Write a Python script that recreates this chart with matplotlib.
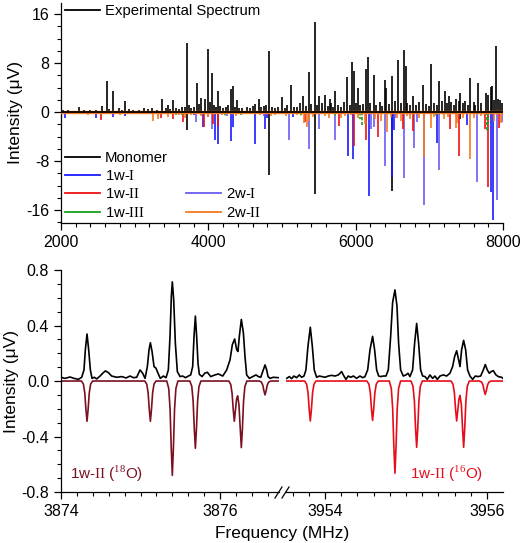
import numpy as np
import matplotlib
matplotlib.use("Agg")
import matplotlib.pyplot as plt
from matplotlib.lines import Line2D
from matplotlib.ticker import MultipleLocator

plt.rcParams['font.family'] = ['Liberation Sans', 'DejaVu Sans']
plt.rcParams['mathtext.fontset'] = 'custom'
plt.rcParams['mathtext.rm'] = 'Liberation Serif'
plt.rcParams['axes.unicode_minus'] = False

# ---- top panel: stick spectra (MHz, uV) ----
exp_f = [2030, 2090, 2150, 2240, 2310, 2400, 2480, 2552, 2619, 2650, 2710, 2790, 2830, 2864,
         2920, 2980, 3060, 3120, 3180, 3230, 3300, 3366, 3420, 3450, 3480, 3519, 3560, 3600,
         3640, 3680, 3709, 3740, 3770, 3800, 3840, 3870, 3904, 3949, 3994, 4020, 4044, 4070,
         4100, 4125, 4160, 4200, 4240, 4270, 4306, 4333, 4360, 4383, 4420, 4460, 4520, 4560,
         4600, 4640, 4681, 4720, 4760, 4780, 4817, 4860, 4900, 4940, 4998, 5040, 5070, 5120,
         5160, 5200, 5240, 5287, 5320, 5360, 5400, 5445, 5480, 5504, 5540, 5590, 5620, 5645,
         5660, 5690, 5717, 5760, 5800, 5840, 5889, 5920, 5956, 5974, 6000, 6033, 6060, 6100,
         6137, 6169, 6200, 6246, 6280, 6330, 6360, 6395, 6417, 6450, 6499, 6540, 6580, 6610,
         6653, 6680, 6700, 6740, 6780, 6820, 6860, 6915, 6960, 7000, 7028, 7060, 7100, 7132,
         7170, 7213, 7240, 7268, 7300, 7330, 7358, 7400, 7421, 7460, 7490, 7520, 7548, 7600,
         7620, 7657, 7700, 7765, 7797, 7837, 7856, 7880, 7910, 7937, 7955, 7990]
exp_v = [0.4, 0.3, 0.2, 0.8, 0.3, 0.4, 0.3, 1.0, 5.0, 0.5, 3.4, 0.6, 0.3, 1.8,
         0.5, 0.4, 0.3, 0.6, 0.5, 0.7, 0.4, 2.1, 0.6, 1.2, 0.5, 2.0, 0.7, 0.5,
         0.8, 0.9, 11.3, 1.1, 0.6, 0.9, 4.8, 1.3, 2.3, 2.1, 10.3, 1.6, 6.3, 1.1,
         0.8, 3.5, 1.0, 0.7, 0.8, 1.2, 3.7, 4.3, 0.9, 2.0, 0.7, 0.6, 0.9, 0.7,
         1.0, 1.3, 2.2, 0.8, 1.0, 1.2, 10.0, 0.9, 0.6, 0.8, 2.5, 0.7, 1.2, 4.4,
         0.9, 0.8, 1.4, 2.7, 1.0, 6.5, 1.3, 14.7, 1.1, 2.7, 1.5, 2.8, 1.0, 2.2,
         1.4, 0.9, 3.5, 1.2, 0.8, 1.6, 5.8, 1.2, 8.2, 6.7, 1.5, 3.9, 1.1, 1.3,
         7.0, 9.0, 1.4, 6.0, 1.2, 1.6, 1.0, 5.3, 3.9, 1.3, 5.9, 1.8, 8.5, 1.5,
         10.1, 7.5, 1.4, 1.1, 2.7, 1.2, 1.6, 4.4, 1.3, 1.0, 7.8, 1.5, 1.2, 5.0,
         1.8, 3.4, 1.4, 2.7, 1.7, 1.2, 2.1, 1.8, 3.1, 1.5, 1.8, 1.1, 5.6, 1.6,
         1.2, 4.8, 1.4, 3.1, 2.8, 4.1, 4.3, 1.9, 10.8, 2.2, 2.0, 1.5]

mono_f = [3709, 4817, 5445, 6499, 7421]
mono_v = [-2.9, -10.2, -13.3, -12.8, -1.2]

w1_I_f = [2058, 2479, 2706, 2866, 3800, 3932, 4095, 4127, 4303, 4340, 4634, 4769, 4790,
          5150, 5898, 5968, 6176, 6493, 6520, 7108, 7506, 7832, 7859]
w1_I_v = [-0.9, -1.0, -0.8, -0.7, -0.4, -2.5, -4.5, -5.2, -4.8, -2.5, -5.2, -2.7, -1.0,
          -0.8, -7.1, -7.6, -13.7, -10.6, -2.9, -5.1, -2.1, -13.0, -17.6]

w1_II_f = [2547, 3357, 3519, 3660, 3946, 4059, 4125, 5310, 5770, 5982, 6140, 6303, 6638,
           6778, 7280, 7407, 7756, 7796, 7946]
w1_II_v = [-1.3, -0.9, -1.1, -1.6, -2.5, -2.0, -2.2, -1.6, -2.2, -5.5, -4.6, -4.1, -2.8,
           -3.1, -2.8, -7.2, -2.7, -12.2, -2.6]

w1_III_f = [3560, 3640, 4230, 4440, 5260, 5720, 6060, 6086, 6740, 7090, 7779, 7800]
w1_III_v = [-0.4, -0.5, -0.6, -0.5, -0.6, -0.8, -1.2, -2.1, -0.8, -0.7, -3.2, -2.0]

w2_I_f = [3833, 4000, 4045, 4260, 4760, 5099, 5362, 5498, 5715, 6212, 6245, 6394, 6540,
          6656, 6787, 6830, 6928, 7135, 7651, 7913, 7991]
w2_I_v = [-1.6, -0.8, -2.8, -0.7, -0.6, -4.6, -6.1, -2.7, -4.5, -2.8, -2.5, -8.8, -1.0,
          -10.8, -5.9, -1.6, -15.2, -9.5, -11.4, -14.4, -1.6]

w2_II_f = [2200, 2367, 2600, 2800, 3100, 3249, 3317, 3453, 3600, 3680, 3760, 3900, 4000,
           4180, 4380, 4500, 4700, 4850, 4900, 5050, 5200, 5300, 5335, 5362, 5420, 5580,
           5640, 5800, 5850, 5930, 6030, 6120, 6260, 6340, 6425, 6480, 6560, 6620, 6700,
           6740, 6860, 6928, 7018, 7060, 7200, 7250, 7357, 7380, 7460, 7552, 7600, 7700,
           7880, 7970]
w2_II_v = [-0.2, -0.5, -0.3, -0.4, -0.3, -1.4, -1.2, -0.8, -0.5, -0.9, -0.4, -0.6, -0.8,
           -0.5, -0.7, -0.3, -0.5, -0.6, -0.4, -0.6, -0.4, -1.8, -2.5, -1.5, -0.8, -0.6,
           -0.9, -1.0, -0.6, -0.5, -1.0, -2.0, -1.2, -1.4, -3.2, -0.8, -0.9, -1.4, -0.7,
           -1.2, -1.0, -7.3, -2.6, -0.8, -1.1, -0.8, -2.6, -1.8, -1.0, -7.7, -0.9, -0.6,
           -1.4, -1.8]

# ---- bottom panel: zoomed traces ----
l_exp_f = [3874.000, 3874.050, 3874.113, 3874.164, 3874.218, 3874.260, 3874.289, 3874.306,
           3874.327, 3874.348, 3874.369, 3874.390, 3874.419, 3874.449, 3874.491, 3874.524,
           3874.558, 3874.595, 3874.637, 3874.700, 3874.763, 3874.818, 3874.868, 3874.910,
           3874.952, 3874.994, 3875.027, 3875.057, 3875.086, 3875.107, 3875.124, 3875.145,
           3875.170, 3875.195, 3875.220, 3875.249, 3875.287, 3875.321, 3875.350, 3875.371,
           3875.388, 3875.400, 3875.417, 3875.438, 3875.463, 3875.497, 3875.530, 3875.564,
           3875.602, 3875.631, 3875.656, 3875.673, 3875.690, 3875.706, 3875.723, 3875.740,
           3875.774, 3875.807, 3875.841, 3875.883, 3875.937, 3875.979, 3876.034, 3876.084,
           3876.126, 3876.155, 3876.184, 3876.210, 3876.226, 3876.243, 3876.268, 3876.294,
           3876.314, 3876.335, 3876.369, 3876.411, 3876.453, 3876.482, 3876.512, 3876.537,
           3876.566, 3876.587, 3876.604, 3876.629, 3876.671, 3876.734]
l_exp_v = [0.027, 0.019, 0.029, 0.019, 0.012, 0.027, 0.080, 0.225,
           0.339, 0.225, 0.080, 0.019, 0.027, 0.015, 0.036, 0.056,
           0.073, 0.061, 0.036, 0.027, 0.032, 0.022, 0.036, 0.024,
           0.027, 0.080, 0.056, 0.019, 0.104, 0.225, 0.276, 0.213,
           0.104, 0.092, 0.056, 0.019, 0.036, 0.024, 0.080, 0.322,
           0.613, 0.715, 0.589, 0.274, 0.068, 0.032, 0.036, 0.024,
           0.036, 0.044, 0.104, 0.322, 0.468, 0.322, 0.128, 0.048,
           0.032, 0.056, 0.063, 0.032, 0.044, 0.051, 0.036, 0.080,
           0.153, 0.262, 0.303, 0.225, 0.213, 0.322, 0.444, 0.347,
           0.177, 0.044, 0.019, 0.032, 0.044, 0.032, 0.027, 0.068,
           0.116, 0.080, 0.032, 0.019, 0.027, 0.024]

l_sim_f = [3874.000,
           3874.257, 3874.282, 3874.299, 3874.313, 3874.327, 3874.341, 3874.355, 3874.372, 3874.397,
           3875.054, 3875.079, 3875.096, 3875.110, 3875.124, 3875.138, 3875.152, 3875.169, 3875.194,
           3875.330, 3875.355, 3875.372, 3875.386, 3875.400, 3875.414, 3875.428, 3875.445, 3875.470,
           3875.620, 3875.645, 3875.662, 3875.676, 3875.690, 3875.704, 3875.718, 3875.735, 3875.760,
           3876.110, 3876.135, 3876.152, 3876.166, 3876.180, 3876.194, 3876.208, 3876.222, 3876.238,
           3876.254, 3876.268, 3876.282, 3876.296, 3876.313, 3876.338,
           3876.496, 3876.521, 3876.538, 3876.552, 3876.566, 3876.580, 3876.594, 3876.611, 3876.636,
           3876.734]
l_sim_v = [0.0,
           0.0, -0.023, -0.087, -0.203, -0.290, -0.203, -0.087, -0.023, 0.0,
           0.0, -0.023, -0.087, -0.203, -0.290, -0.203, -0.087, -0.023, 0.0,
           0.0, -0.054, -0.204, -0.476, -0.680, -0.476, -0.204, -0.054, 0.0,
           0.0, -0.039, -0.146, -0.340, -0.485, -0.340, -0.146, -0.039, 0.0,
           0.0, -0.025, -0.090, -0.205, -0.290, -0.210, -0.130, -0.107, -0.170,
           -0.340, -0.480, -0.340, -0.146, -0.039, 0.0,
           0.0, -0.008, -0.030, -0.070, -0.100, -0.070, -0.030, -0.008, 0.0,
           0.0]

r_exp_f = [3953.527, 3953.560, 3953.588, 3953.617, 3953.650, 3953.683, 3953.712, 3953.741,
           3953.765, 3953.790, 3953.819, 3953.844, 3953.868, 3953.897, 3953.930, 3953.963,
           3954.000, 3954.041, 3954.082, 3954.123, 3954.165, 3954.206, 3954.226, 3954.259,
           3954.288, 3954.317, 3954.350, 3954.391, 3954.432, 3954.465, 3954.494, 3954.527,
           3954.556, 3954.588, 3954.613, 3954.638, 3954.663, 3954.687, 3954.720, 3954.753,
           3954.782, 3954.811, 3954.835, 3954.864, 3954.889, 3954.909, 3954.934, 3954.967,
           3955.000, 3955.025, 3955.049, 3955.082, 3955.107, 3955.132, 3955.156, 3955.181,
           3955.206, 3955.235, 3955.263, 3955.296, 3955.329, 3955.358, 3955.387, 3955.420,
           3955.461, 3955.502, 3955.543, 3955.576, 3955.601, 3955.626, 3955.650, 3955.667,
           3955.687, 3955.712, 3955.737, 3955.761, 3955.790, 3955.823, 3955.856, 3955.889,
           3955.922, 3955.955, 3955.979, 3956.004, 3956.029, 3956.053, 3956.078, 3956.111,
           3956.140, 3956.181, 3956.198]
r_exp_v = [0.019, 0.032, 0.017, 0.036, 0.024, 0.044, 0.027, 0.036,
           0.080, 0.250, 0.388, 0.250, 0.080, 0.027, 0.036, 0.032,
           0.027, 0.036, 0.041, 0.036, 0.044, 0.068, 0.044, 0.012,
           0.036, 0.027, 0.036, 0.019, 0.036, 0.024, 0.032, 0.080,
           0.225, 0.322, 0.225, 0.080, 0.036, 0.032, 0.036, 0.036,
           0.080, 0.322, 0.565, 0.657, 0.541, 0.274, 0.080, 0.036,
           0.044, 0.056, 0.032, 0.080, 0.274, 0.415, 0.274, 0.080,
           0.036, 0.032, 0.012, 0.044, 0.019, 0.036, 0.012, 0.036,
           0.044, 0.036, 0.056, 0.104, 0.177, 0.218, 0.153, 0.104,
           0.225, 0.293, 0.225, 0.080, 0.036, 0.012, 0.036, 0.032,
           0.036, 0.080, 0.119, 0.080, 0.056, 0.068, 0.075, 0.044,
           0.032, 0.027, 0.019]

r_sim_f = [3953.519,
           3953.749, 3953.774, 3953.791, 3953.805, 3953.819, 3953.833, 3953.847, 3953.864, 3953.889,
           3954.518, 3954.543, 3954.560, 3954.574, 3954.588, 3954.602, 3954.616, 3954.633, 3954.658,
           3954.794, 3954.819, 3954.836, 3954.850, 3954.864, 3954.878, 3954.892, 3954.909, 3954.934,
           3955.062, 3955.087, 3955.104, 3955.118, 3955.132, 3955.146, 3955.160, 3955.177, 3955.202,
           3955.556, 3955.581, 3955.598, 3955.612, 3955.626, 3955.640, 3955.654, 3955.667, 3955.684,
           3955.698, 3955.712, 3955.726, 3955.740, 3955.757, 3955.782,
           3955.909, 3955.934, 3955.951, 3955.965, 3955.979, 3955.993, 3956.007, 3956.024, 3956.049,
           3956.198]
r_sim_v = [0.0,
           0.0, -0.023, -0.086, -0.202, -0.288, -0.202, -0.086, -0.023, 0.0,
           0.0, -0.023, -0.085, -0.199, -0.284, -0.199, -0.085, -0.023, 0.0,
           0.0, -0.053, -0.199, -0.465, -0.664, -0.465, -0.199, -0.053, 0.0,
           0.0, -0.038, -0.143, -0.335, -0.478, -0.335, -0.143, -0.038, 0.0,
           0.0, -0.023, -0.086, -0.202, -0.288, -0.210, -0.130, -0.104, -0.170,
           -0.335, -0.478, -0.335, -0.143, -0.038, 0.0,
           0.0, -0.008, -0.029, -0.068, -0.097, -0.068, -0.029, -0.008, 0.0,
           0.0]

c_black = 'black'
c_1wI = '#1a1aff'
c_1wII = '#f01010'
c_1wIII = '#18a018'
c_2wI = '#6a5cf2'
c_2wII = '#f57a22'
c_dark = '#7a1020'
c_red = '#e50d1a'

fig = plt.figure(figsize=(5.22, 5.43), dpi=100)

def style(ax, left=True):
    ax.spines['top'].set_visible(False)
    ax.spines['right'].set_visible(False)
    if not left:
        ax.spines['left'].set_visible(False)
        ax.tick_params(axis='y', which='both', left=False, labelleft=False)
    ax.tick_params(which='major', direction='out', length=5, width=0.9, labelsize=11.5)
    ax.tick_params(which='minor', direction='out', length=3, width=0.8)
    for s in ax.spines.values():
        s.set_linewidth(0.9)

# top panel
ax1 = fig.add_axes([0.1169, 0.5893, 0.8467, 0.4052])
lw = 1.2
ax1.vlines(exp_f, 0, exp_v, color=c_black, lw=lw)
ax1.vlines(mono_f, 0, mono_v, color=c_black, lw=lw)
ax1.vlines(w1_I_f, 0, w1_I_v, color=c_1wI, lw=lw)
ax1.vlines(w2_I_f, 0, w2_I_v, color=c_2wI, lw=lw)
ax1.vlines(w1_II_f, 0, w1_II_v, color=c_1wII, lw=lw)
ax1.vlines(w1_III_f, 0, w1_III_v, color=c_1wIII, lw=lw, linestyles=(0, (2, 1)))
ax1.vlines(w2_II_f, 0, w2_II_v, color=c_2wII, lw=lw)
ax1.axhline(0, color=c_2wII, lw=2.4, zorder=3)
ax1.axhline(0, color=c_black, lw=1.3, zorder=4)
ax1.set_xlim(2000, 8000)
ax1.set_ylim(-18.1, 17.8)
ax1.xaxis.set_major_locator(MultipleLocator(2000))
ax1.xaxis.set_minor_locator(MultipleLocator(200))
ax1.yaxis.set_major_locator(MultipleLocator(8))
ax1.yaxis.set_minor_locator(MultipleLocator(2))
style(ax1)
ax1.set_ylabel('Intensity (μV)', fontsize=12.5, labelpad=2)

h_exp = [Line2D([], [], color=c_black, lw=1.3)]
leg0 = ax1.legend(h_exp, ['Experimental Spectrum'], loc='upper left', bbox_to_anchor=(-0.005, 1.022),
                  frameon=False, fontsize=10.7, handlelength=2.4, handletextpad=0.3,
                  borderaxespad=0)
ax1.add_artist(leg0)

blank = Line2D([], [], color='none')
hs = [Line2D([], [], color=c_black, lw=1.3), Line2D([], [], color=c_1wI, lw=1.3),
      Line2D([], [], color=c_1wII, lw=1.3), Line2D([], [], color=c_1wIII, lw=1.3),
      blank, blank,
      Line2D([], [], color=c_2wI, lw=1.3), Line2D([], [], color=c_2wII, lw=1.3)]
labs = ['Monomer', r'1w-$\mathrm{I}$', r'1w-$\mathrm{II}$', r'1w-$\mathrm{III}$', '', '',
        r'2w-$\mathrm{I}$', r'2w-$\mathrm{II}$']
ax1.legend(hs, labs, ncol=2, loc='upper left', bbox_to_anchor=(-0.005, 0.355),
           frameon=False, fontsize=10.7, handlelength=2.4, handletextpad=0.3,
           labelspacing=0.29, columnspacing=1.2, borderaxespad=0)

# bottom panels
ax2 = fig.add_axes([0.1169, 0.0939, 0.4176, 0.4088])
ax3 = fig.add_axes([0.5479, 0.0939, 0.4157, 0.4088])
ax2.plot(l_sim_f, l_sim_v, color=c_dark, lw=1.2)
ax2.plot(l_exp_f, l_exp_v, color=c_black, lw=1.2)
ax3.plot(r_sim_f, r_sim_v, color=c_red, lw=1.2)
ax3.plot(r_exp_f, r_exp_v, color=c_black, lw=1.2)
ax2.set_xlim(3874, 3876.742)
ax3.set_xlim(3953.519, 3956.198)
for ax in (ax2, ax3):
    ax.set_ylim(-0.8, 0.8)
    ax.xaxis.set_major_locator(MultipleLocator(2))
    ax.xaxis.set_minor_locator(MultipleLocator(0.2))
    ax.xaxis.set_major_formatter(matplotlib.ticker.FormatStrFormatter('%d'))
ax2.yaxis.set_major_locator(MultipleLocator(0.4))
ax2.yaxis.set_minor_locator(MultipleLocator(0.1))
ax2.yaxis.set_major_formatter(matplotlib.ticker.FormatStrFormatter('%.1f'))
style(ax2)
style(ax3, left=False)
ax2.set_ylabel('Intensity (μV)', fontsize=12.5, labelpad=2)
fig.text(0.54, 0.018, 'Frequency (MHz)', ha='center', va='center', fontsize=12.5)

ax2.text(3874.11, -0.67, r'1w-$\mathrm{II}$ ($^{18}$O)', color=c_dark, fontsize=11,
         ha='left', va='center')
ax3.text(3955.95, -0.67, r'1w-$\mathrm{II}$ ($^{16}$O)', color=c_red, fontsize=11,
         ha='right', va='center')

# axis break marks
for x0 in (275, 282):
    fig.add_artist(Line2D([x0 / 522, (x0 + 7) / 522], [(543 - 498) / 543, (543 - 487) / 543],
                          color='black', lw=0.9))

fig.savefig('out.png', dpi=100)
